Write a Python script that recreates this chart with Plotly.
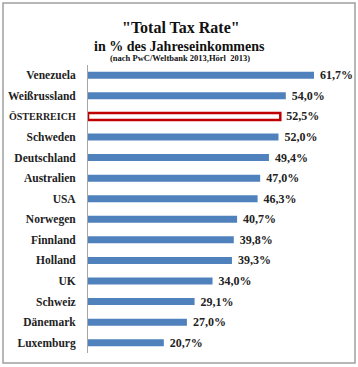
import plotly.graph_objects as go

countries = ["Venezuela", "Weißrussland", "ÖSTERREICH", "Schweden", "Deutschland",
             "Australien", "USA", "Norwegen", "Finnland", "Holland", "UK",
             "Schweiz", "Dänemark", "Luxemburg"]
rates = [61.7, 54.0, 52.5, 52.0, 49.4, 47.0, 46.3, 40.7, 39.8, 39.3, 34.0, 29.1, 27.0, 20.7]
highlight = "ÖSTERREICH"

labels = [" " + f"{v:.1f}%".replace(".", ",") for v in rates]
fills = ["white" if c == highlight else "#4F81BD" for c in countries]
lines = ["#C00000" if c == highlight else "#4F81BD" for c in countries]
lwidth = [2.5 if c == highlight else 0 for c in countries]
ticktext = [f'<span style="font-size:10px">{c}</span>' if c == highlight else c for c in countries]

FONT = "Liberation Serif"

W, H = 358, 367
L, R, T, B = 88, 13, 65, 14
pw, ph = W - L - R, H - T - B

def px(x):
    return (x - L) / pw

def py(y):
    return (H - B - y) / ph

fig = go.Figure(go.Bar(
    x=rates, y=countries, orientation="h",
    marker=dict(color=fills, line=dict(color=lines, width=lwidth)),
    width=0.34,
    text=labels, textposition="outside", cliponaxis=False, constraintext="none",
    textfont=dict(family=FONT, size=12, color="#222222", weight="bold"),
))

fig.update_layout(
    width=W, height=H,
    margin=dict(l=L, r=R, t=T, b=B, autoexpand=False),
    paper_bgcolor="white", plot_bgcolor="white",
    showlegend=False,
    xaxis=dict(range=[0, pw / 3.663], visible=False),
    yaxis=dict(autorange="reversed", showgrid=False, showline=True, automargin=False,
               tickmode="array", tickvals=countries, ticktext=ticktext,
               linecolor="#A6A6A6", linewidth=1, ticks="", ticklen=0, ticklabelstandoff=9,
               tickfont=dict(family=FONT, size=11.5, color="#222222", weight="bold")),
    font=dict(family=FONT),
    shapes=[dict(type="rect", xref="paper", yref="paper",
                 x0=px(3), x1=px(355), y0=py(363), y1=py(3),
                 line=dict(color="#A0A0A0", width=1.5), fillcolor="rgba(0,0,0,0)")],
    annotations=[
        dict(text='"Total Tax Rate"', x=px(181), y=py(17), xref="paper", yref="paper",
             showarrow=False, font=dict(family=FONT, size=16, color="#111111", weight="bold")),
        dict(text="in % des Jahreseinkommens", x=px(179), y=py(37), xref="paper", yref="paper",
             showarrow=False, font=dict(family=FONT, size=14, color="#111111", weight="bold")),
        dict(text="(nach PwC/Weltbank 2013,Hörl  2013)", x=px(180), y=py(51), xref="paper", yref="paper",
             showarrow=False, font=dict(family=FONT, size=8.5, color="#111111", weight="bold")),
    ],
)

fig.write_html("out.html", config={"displayModeBar": False},
               post_script="document.body.style.margin='0';document.body.style.overflow='hidden';")
